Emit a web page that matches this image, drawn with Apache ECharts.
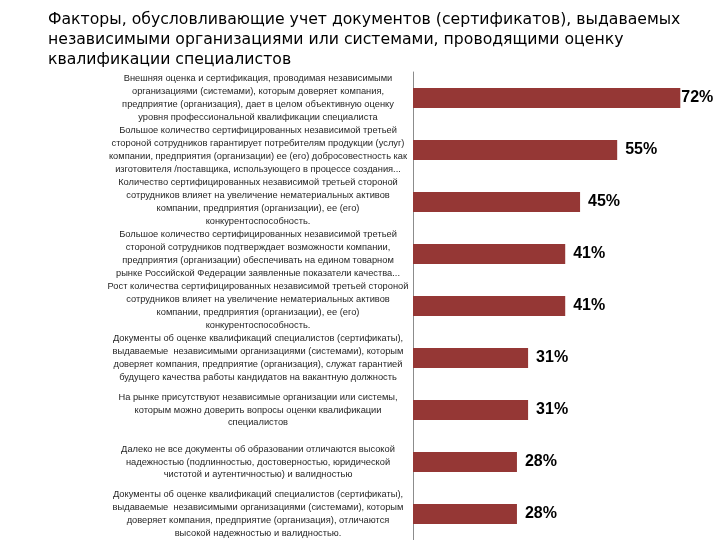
<!DOCTYPE html>
<html>
<head>
<meta charset="utf-8">
<script src="https://cdn.jsdelivr.net/npm/echarts@6/dist/echarts.min.js"></script>
<style>html,body{margin:0;padding:0;background:#fff}#c{width:720px;height:540px}</style>
</head>
<body>
<div id="c"></div>
<script>
var titleText = "Факторы, обусловливающие учет документов (сертификатов), выдаваемых\nнезависимыми организациями или системами, проводящими оценку\nквалификации специалистов";
var categories = [
  "Внешняя оценка и сертификация, проводимая независимыми\nорганизациями (системами), которым доверяет компания,\nпредприятие (организация), дает в целом объективную оценку\nуровня профессиональной квалификации специалиста",
  "Большое количество сертифицированных независимой третьей\nстороной сотрудников гарантирует потребителям продукции (услуг)\nкомпании, предприятия (организации) ее (его) добросовестность как\nизготовителя /поставщика, использующего в процессе создания...",
  "Количество сертифицированных независимой третьей стороной\nсотрудников влияет на увеличение нематериальных активов\nкомпании, предприятия (организации), ее (его)\nконкурентоспособность.",
  "Большое количество сертифицированных независимой третьей\nстороной сотрудников подтверждает возможности компании,\nпредприятия (организации) обеспечивать на едином товарном\nрынке Российской Федерации заявленные показатели качества...",
  "Рост количества сертифицированных независимой третьей стороной\nсотрудников влияет на увеличение нематериальных активов\nкомпании, предприятия (организации), ее (его)\nконкурентоспособность.",
  "Документы об оценке квалификаций специалистов (сертификаты),\nвыдаваемые  независимыми организациями (системами), которым\nдоверяет компания, предприятие (организация), служат гарантией\nбудущего качества работы кандидатов на вакантную должность",
  "На рынке присутствуют независимые организации или системы,\nкоторым можно доверить вопросы оценки квалификации\nспециалистов",
  "Далеко не все документы об образовании отличаются высокой\nнадежностью (подлинностью, достоверностью, юридической\nчистотой и аутентичностью) и валидностью",
  "Документы об оценке квалификаций специалистов (сертификаты),\nвыдаваемые  независимыми организациями (системами), которым\nдоверяет компания, предприятие (организация), отличаются\nвысокой надежностью и валидностью."
];
var values = [72, 55, 45, 41, 41, 31, 31, 28, 28];

var chart = echarts.init(document.getElementById('c'), null, {renderer: 'canvas'});
var data = values.map(function (v, i) {
  var d = {value: v};
  if (i === 0) d.label = {distance: 1};
  return d;
});
chart.setOption({
  animation: false,
  backgroundColor: '#ffffff',
  title: {
    text: titleText,
    left: 43, top: 5,
    textStyle: {fontFamily: 'DejaVu Sans', fontSize: 15.7, fontWeight: 'normal', color: '#000', lineHeight: 20}
  },
  grid: {left: 413, top: 72, width: 297, height: 468, containLabel: false},
  xAxis: {
    type: 'value', min: 0, max: 80,
    show: false
  },
  yAxis: {
    type: 'category',
    data: categories,
    inverse: true,
    axisLine: {show: true, lineStyle: {color: '#8c8c8c', width: 1}},
    axisTick: {show: false},
    axisLabel: {
      interval: 0,
      align: 'center',
      margin: 155,
      fontFamily: 'Liberation Sans',
      fontSize: 9.3,
      lineHeight: 12.8,
      color: '#262626'
    }
  },
  series: [{
    type: 'bar',
    data: data,
    barWidth: 20,
    itemStyle: {color: '#953735'},
    label: {
      show: true,
      position: 'right',
      distance: 8,
      formatter: '{c}%',
      fontFamily: 'Liberation Sans',
      fontWeight: 'bold',
      fontSize: 16,
      color: '#000'
    }
  }]
});
</script>
</body>
</html>
